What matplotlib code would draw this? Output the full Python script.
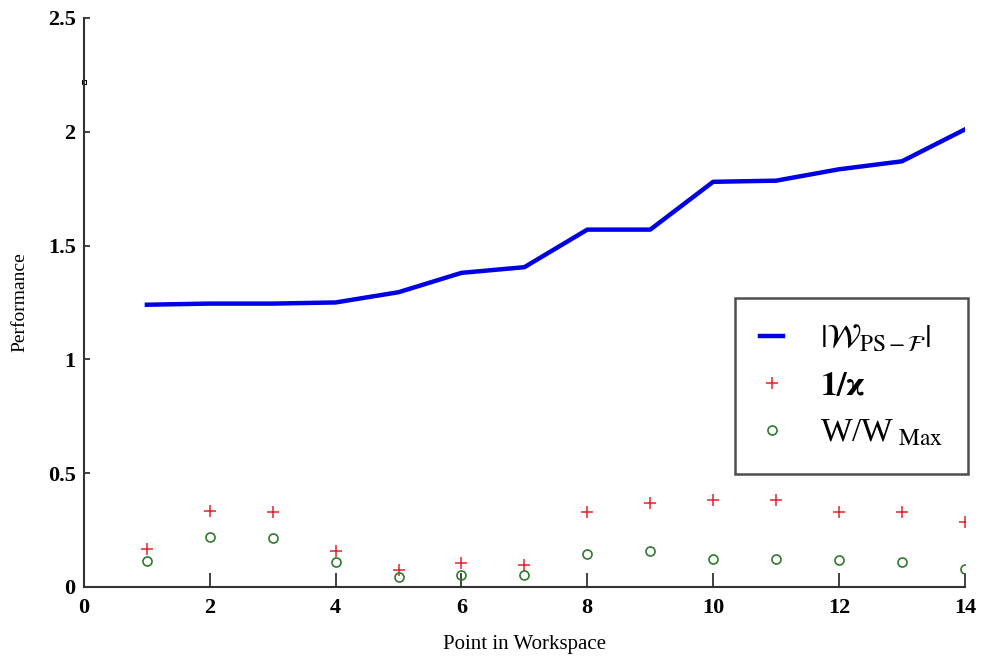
import matplotlib.pyplot as plt
import numpy as np

plt.rcParams['font.family'] = ['Liberation Serif', 'DejaVu Serif']
plt.rcParams['mathtext.fontset'] = 'stix'

## data
points = np.arange(1, 15)
w_ps = [1.24, 1.245, 1.245, 1.25, 1.295, 1.38, 1.405, 1.57, 1.57, 1.78, 1.785, 1.835, 1.87, 2.01]
inv_kappa = [0.165, 0.334, 0.33, 0.16, 0.075, 0.105, 0.097, 0.328, 0.37, 0.382, 0.382, 0.33, 0.33, 0.286]
w_ratio = [0.114, 0.218, 0.214, 0.108, 0.045, 0.053, 0.053, 0.145, 0.158, 0.124, 0.125, 0.12, 0.11, 0.08]

fig = plt.figure(figsize=(9.82, 6.64), dpi=100)
ax = fig.add_axes([0.0855, 0.116, 0.897, 0.857])

ax.plot(points, w_ps, color='#0000e6', lw=3.2, label=r'$|\mathcal{W}_{\mathrm{PS}-\mathcal{F}}|$')
ax.plot(points, inv_kappa, '+', color='#e8202a', ms=8, mew=1.1, label=r'$\mathbf{1/\varkappa}$')
ax.plot(points, w_ratio, 'o', mfc='none', mec='#2f7a2f', ms=6.5, mew=1.2, label=r'W/W$_{\ \mathrm{Max}}$')

## stray little square on the y axis
ax.plot([0], [2.22], 's', mfc='white', mec='black', ms=3.5, mew=0.8, clip_on=False)

ax.set_xlim(0, 14)
ax.set_ylim(0, 2.5)
ax.set_xticks(np.arange(0, 15, 2))
ax.set_yticks([0, 0.5, 1, 1.5, 2, 2.5])
ax.set_yticklabels(['0', '0.5', '1', '1.5', '2', '2.5'])

for s in ['top', 'right']:
    ax.spines[s].set_visible(False)
for s in ['left', 'bottom']:
    ax.spines[s].set_linewidth(1.5)
    ax.spines[s].set_color('#333333')

ax.tick_params(axis='x', direction='in', length=10, width=1.3, labelsize=16, pad=8, color='#333333')
ax.tick_params(axis='y', direction='in', length=4, width=1.3, labelsize=16, pad=6, color='#333333')
for lab in ax.get_xticklabels() + ax.get_yticklabels():
    lab.set_fontweight('bold')

ax.set_xlabel('Point in Workspace', fontsize=15, labelpad=12)
ax.set_ylabel('Performance', fontsize=14, labelpad=14)

leg = ax.legend(loc='upper left', bbox_to_anchor=(0.739, 0.508), fontsize=24,
                frameon=True, fancybox=False, edgecolor='#222222', handlelength=0.7,
                handletextpad=1.1, borderpad=0.75, labelspacing=0.5, borderaxespad=0)
leg.get_frame().set_linewidth(1.8)

fig.savefig('out.png', dpi=100)
